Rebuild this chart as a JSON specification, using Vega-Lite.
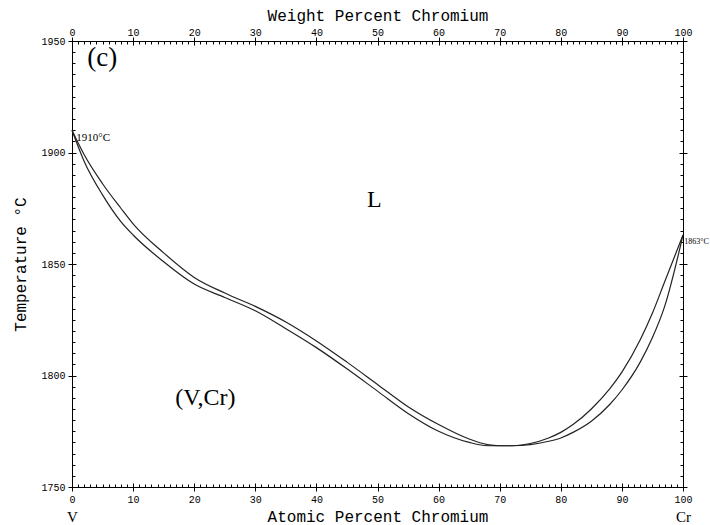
{
  "$schema": "https://vega.github.io/schema/vega-lite/v6.json",
  "autosize": "none",
  "width": 611,
  "height": 446,
  "padding": {"left": 72, "top": 41, "right": 27, "bottom": 38},
  "background": "white",
  "config": {
    "view": {"stroke": null},
    "axis": {"domainColor": "black", "tickColor": "black", "labelColor": "black", "titleColor": "black", "grid": false, "labelFont": "Liberation Mono", "titleFont": "Liberation Mono", "labelFontSize": 10, "titleFontSize": 16, "titleFontWeight": "normal", "format": "d"}
  },
  "datasets": {
    "curves": [
      {"curve": "Liquidus", "x": 0, "t": 1910},
      {"curve": "Liquidus", "x": 2, "t": 1899},
      {"curve": "Liquidus", "x": 5, "t": 1886},
      {"curve": "Liquidus", "x": 8, "t": 1875},
      {"curve": "Liquidus", "x": 10, "t": 1868},
      {"curve": "Liquidus", "x": 15, "t": 1855},
      {"curve": "Liquidus", "x": 20, "t": 1844},
      {"curve": "Liquidus", "x": 25, "t": 1837},
      {"curve": "Liquidus", "x": 30, "t": 1831},
      {"curve": "Liquidus", "x": 35, "t": 1824},
      {"curve": "Liquidus", "x": 40, "t": 1815.5},
      {"curve": "Liquidus", "x": 45, "t": 1806},
      {"curve": "Liquidus", "x": 50, "t": 1796},
      {"curve": "Liquidus", "x": 55, "t": 1786},
      {"curve": "Liquidus", "x": 60, "t": 1778},
      {"curve": "Liquidus", "x": 65, "t": 1771.5},
      {"curve": "Liquidus", "x": 68, "t": 1769},
      {"curve": "Liquidus", "x": 70, "t": 1768.5},
      {"curve": "Liquidus", "x": 72, "t": 1768.5},
      {"curve": "Liquidus", "x": 75, "t": 1769.5},
      {"curve": "Liquidus", "x": 78, "t": 1772},
      {"curve": "Liquidus", "x": 80, "t": 1774.5},
      {"curve": "Liquidus", "x": 82, "t": 1778},
      {"curve": "Liquidus", "x": 85, "t": 1785},
      {"curve": "Liquidus", "x": 88, "t": 1794},
      {"curve": "Liquidus", "x": 90, "t": 1801.5},
      {"curve": "Liquidus", "x": 93, "t": 1816},
      {"curve": "Liquidus", "x": 95, "t": 1828},
      {"curve": "Liquidus", "x": 97, "t": 1842},
      {"curve": "Liquidus", "x": 100, "t": 1863},
      {"curve": "Solidus", "x": 0, "t": 1910},
      {"curve": "Solidus", "x": 2, "t": 1896},
      {"curve": "Solidus", "x": 5, "t": 1881},
      {"curve": "Solidus", "x": 8, "t": 1869},
      {"curve": "Solidus", "x": 10, "t": 1863},
      {"curve": "Solidus", "x": 15, "t": 1851},
      {"curve": "Solidus", "x": 20, "t": 1841},
      {"curve": "Solidus", "x": 25, "t": 1835},
      {"curve": "Solidus", "x": 30, "t": 1829},
      {"curve": "Solidus", "x": 35, "t": 1821},
      {"curve": "Solidus", "x": 40, "t": 1812.5},
      {"curve": "Solidus", "x": 45, "t": 1803},
      {"curve": "Solidus", "x": 50, "t": 1793},
      {"curve": "Solidus", "x": 55, "t": 1783},
      {"curve": "Solidus", "x": 60, "t": 1775},
      {"curve": "Solidus", "x": 65, "t": 1770},
      {"curve": "Solidus", "x": 68, "t": 1768.5},
      {"curve": "Solidus", "x": 70, "t": 1768.5},
      {"curve": "Solidus", "x": 72, "t": 1768.5},
      {"curve": "Solidus", "x": 75, "t": 1769},
      {"curve": "Solidus", "x": 78, "t": 1770.5},
      {"curve": "Solidus", "x": 80, "t": 1772},
      {"curve": "Solidus", "x": 82, "t": 1774.5},
      {"curve": "Solidus", "x": 85, "t": 1779.5},
      {"curve": "Solidus", "x": 88, "t": 1787},
      {"curve": "Solidus", "x": 90, "t": 1793.5},
      {"curve": "Solidus", "x": 93, "t": 1806},
      {"curve": "Solidus", "x": 95, "t": 1817},
      {"curve": "Solidus", "x": 97, "t": 1831},
      {"curve": "Solidus", "x": 100, "t": 1863}
    ],
    "labels": [
      {"x": 2.5, "t": 1942.5, "text": "(c)", "kind": "big"},
      {"x": 48.3, "t": 1878.5, "text": "L", "kind": "phase"},
      {"x": 16.9, "t": 1790, "text": "(V,Cr)", "kind": "phase"}
    ]
  },
  "resolve": {"axis": {"x": "independent", "y": "independent"}},
  "layer": [
    {
      "data": {"name": "curves"},
      "mark": {"type": "line", "interpolate": "monotone", "color": "#222", "strokeWidth": 1.2},
      "encoding": {
        "detail": {"field": "curve"},
        "x": {"field": "x", "type": "quantitative", "scale": {"domain": [0, 100], "nice": false}, "axis": {"orient": "bottom", "values": [0,10,20,30,40,50,60,70,80,90,100], "tickSize": 4, "labelPadding": 3, "title": "Atomic Percent Chromium", "titlePadding": 4, "labelFlush": false}},
        "y": {"field": "t", "type": "quantitative", "scale": {"domain": [1750, 1950], "nice": false, "zero": false}, "axis": {"orient": "left", "values": [1750,1800,1850,1900,1950], "tickSize": 4, "labelPadding": 3, "title": "Temperature °C", "titlePadding": 12, "labelFlush": false}}
      }
    },
    {
      "data": {"name": "curves"},
      "mark": {"type": "line", "strokeOpacity": 0},
      "encoding": {
        "detail": {"field": "curve"},
        "x": {"field": "x", "type": "quantitative", "scale": {"domain": [0, 100], "nice": false}, "axis": {"orient": "bottom", "tickCount": 100, "offset": -3, "tickSize": 3, "labels": false, "domain": false, "title": null}},
        "y": {"field": "t", "type": "quantitative", "scale": {"domain": [1750, 1950], "nice": false, "zero": false}, "axis": {"orient": "left", "tickCount": 40, "offset": -3, "tickSize": 3, "labels": false, "domain": false, "title": null}}
      }
    },
    {
      "data": {"name": "curves"},
      "mark": {"type": "line", "strokeOpacity": 0},
      "encoding": {
        "detail": {"field": "curve"},
        "x": {"field": "x", "type": "quantitative", "scale": {"domain": [0, 100], "nice": false}, "axis": {"orient": "bottom", "values": [0,10,20,30,40,50,60,70,80,90,100], "offset": -4, "tickSize": 4, "labels": false, "domain": false, "title": null}},
        "y": {"field": "t", "type": "quantitative", "scale": {"domain": [1750, 1950], "nice": false, "zero": false}, "axis": {"orient": "left", "values": [1750,1800,1850,1900,1950], "offset": -4, "tickSize": 4, "labels": false, "domain": false, "title": null}}
      }
    },
    {
      "data": {"name": "curves"},
      "mark": {"type": "line", "strokeOpacity": 0},
      "encoding": {
        "detail": {"field": "curve"},
        "x": {"field": "x", "type": "quantitative", "scale": {"domain": [0, 100], "nice": false}, "axis": {"orient": "top", "values": [0,10,20,30,40,50,60,70,80,90,100], "tickSize": 4, "labelPadding": 0, "title": "Weight Percent Chromium", "titlePadding": 4, "labelFlush": false}},
        "y": {"field": "t", "type": "quantitative", "scale": {"domain": [1750, 1950], "nice": false, "zero": false}, "axis": {"orient": "right", "values": [1750,1800,1850,1900,1950], "tickSize": 4, "labels": false, "title": null}}
      }
    },
    {
      "data": {"name": "curves"},
      "mark": {"type": "line", "strokeOpacity": 0},
      "encoding": {
        "detail": {"field": "curve"},
        "x": {"field": "x", "type": "quantitative", "scale": {"domain": [0, 100], "nice": false}, "axis": {"orient": "top", "tickCount": 100, "offset": -3, "tickSize": 3, "labels": false, "domain": false, "title": null}},
        "y": {"field": "t", "type": "quantitative", "scale": {"domain": [1750, 1950], "nice": false, "zero": false}, "axis": {"orient": "right", "tickCount": 40, "offset": -3, "tickSize": 3, "labels": false, "domain": false, "title": null}}
      }
    },
    {
      "data": {"name": "curves"},
      "mark": {"type": "line", "strokeOpacity": 0},
      "encoding": {
        "detail": {"field": "curve"},
        "x": {"field": "x", "type": "quantitative", "scale": {"domain": [0, 100], "nice": false}, "axis": {"orient": "top", "values": [0,10,20,30,40,50,60,70,80,90,100], "offset": -4, "tickSize": 4, "labels": false, "domain": false, "title": null}},
        "y": {"field": "t", "type": "quantitative", "scale": {"domain": [1750, 1950], "nice": false, "zero": false}, "axis": {"orient": "right", "values": [1750,1800,1850,1900,1950], "offset": -4, "tickSize": 4, "labels": false, "domain": false, "title": null}}
      }
    },
    {
      "data": {"name": "curves"},
      "mark": {"type": "line", "strokeOpacity": 0},
      "encoding": {
        "detail": {"field": "curve"},
        "x": {"field": "x", "type": "quantitative", "scale": {"domain": [0, 100], "nice": false}, "axis": {"orient": "bottom", "values": [0, 100], "labelExpr": "datum.value == 0 ? 'V' : 'Cr'", "ticks": false, "domain": false, "labelPadding": 22, "labelFont": "Liberation Serif", "labelFontSize": 15, "labelFlush": false, "title": null}},
        "y": {"field": "t", "type": "quantitative", "scale": {"domain": [1750, 1950], "nice": false, "zero": false}, "axis": null}
      }
    },
    {
      "data": {"name": "labels"},
      "transform": [{"filter": "datum.kind == 'phase'"}],
      "mark": {"type": "text", "font": "Liberation Serif", "fontSize": 24, "align": "left", "baseline": "middle", "color": "black"},
      "encoding": {
        "x": {"field": "x", "type": "quantitative", "scale": {"domain": [0, 100], "nice": false}, "axis": null},
        "y": {"field": "t", "type": "quantitative", "scale": {"domain": [1750, 1950], "nice": false, "zero": false}, "axis": null},
        "text": {"field": "text"}
      }
    },
    {
      "data": {"name": "labels"},
      "transform": [{"filter": "datum.kind == 'big'"}],
      "mark": {"type": "text", "font": "Liberation Serif", "fontSize": 27, "align": "left", "baseline": "middle", "color": "black"},
      "encoding": {
        "x": {"field": "x", "type": "quantitative", "scale": {"domain": [0, 100], "nice": false}, "axis": null},
        "y": {"field": "t", "type": "quantitative", "scale": {"domain": [1750, 1950], "nice": false, "zero": false}, "axis": null},
        "text": {"field": "text"}
      }
    },
    {
      "data": {"values": [{"x": 0.7, "t": 1906.5, "text": "1910°C"}]},
      "mark": {"type": "text", "font": "Liberation Serif", "fontSize": 11, "align": "left", "baseline": "middle", "color": "black"},
      "encoding": {
        "x": {"field": "x", "type": "quantitative", "scale": {"domain": [0, 100], "nice": false}, "axis": null},
        "y": {"field": "t", "type": "quantitative", "scale": {"domain": [1750, 1950], "nice": false, "zero": false}, "axis": null},
        "text": {"field": "text"}
      }
    },
    {
      "data": {"values": [{"x": 100.2, "t": 1860, "text": "1863°C"}]},
      "mark": {"type": "text", "font": "Liberation Serif", "fontSize": 8, "align": "left", "baseline": "middle", "color": "black"},
      "encoding": {
        "x": {"field": "x", "type": "quantitative", "scale": {"domain": [0, 100], "nice": false}, "axis": null},
        "y": {"field": "t", "type": "quantitative", "scale": {"domain": [1750, 1950], "nice": false, "zero": false}, "axis": null},
        "text": {"field": "text"}
      }
    }
  ]
}
